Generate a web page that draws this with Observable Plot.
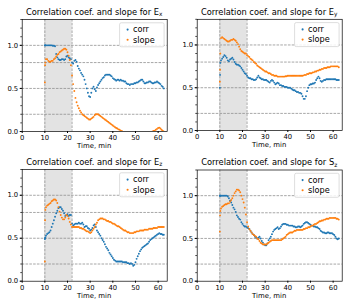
<!DOCTYPE html>
<html><head><meta charset="utf-8">
<script src="https://cdn.jsdelivr.net/npm/d3@7"></script>
<script src="https://cdn.jsdelivr.net/npm/@observablehq/plot@0.6"></script>
<style>
html,body{margin:0;padding:0;background:#fff;}
#root{position:relative;width:359px;height:308px;overflow:hidden;font-family:"DejaVu Sans",sans-serif;}
.panel{position:absolute;}
.panel svg{display:block;overflow:visible;}
</style></head><body><div id="root"></div>
<script>
const times = [10, 10.1, 10.2, 10.5,
  11, 11.5, 12, 12.5, 13, 13.5, 14, 14.5, 15, 15.5,
  16, 16.5, 17, 17.5, 18, 18.5, 19, 19.5, 20, 20.5,
  21, 21.5, 22, 22.5, 23, 23.5, 24, 24.5, 25, 25.5,
  26, 26.5, 27, 27.5, 28, 28.5, 29, 29.5, 30, 30.5,
  31, 31.5, 32, 32.5, 33, 33.5, 34, 34.5, 35, 35.5,
  36, 36.5, 37, 37.5, 38, 38.5, 39, 39.5, 40, 40.5,
  41, 41.5, 42, 42.5, 43, 43.5, 44, 44.5, 45, 45.5,
  46, 46.5, 47, 47.5, 48, 48.5, 49, 49.5, 50, 50.5,
  51, 51.5, 52, 52.5, 53, 53.5, 54, 54.5, 55, 55.5,
  56, 56.5, 57, 57.5, 58, 58.5, 59, 59.5, 60, 60.5,
  61, 61.5, 62, 62.5];

const exCorr = [1.0, 1.0, 1.0, 1.0,
  1.0, 1.0, 1.0, 1.0, 1.0, 0.995, 0.995, 0.99, 0.9, 0.86,
  0.84, 0.83, 0.83, 0.84, 0.84, 0.83, 0.84, 0.87, 0.88, 0.86,
  0.85, 0.84, 0.8, 0.79, 0.82, 0.83, 0.81, 0.76, 0.73, 0.71,
  0.68, 0.66, 0.64, 0.6, 0.55, 0.5, 0.45, 0.41, 0.4, 0.45,
  0.5, 0.52, 0.49, 0.47, 0.51, 0.54, 0.56, 0.58, 0.6, 0.62,
  0.63, 0.65, 0.66, 0.66, 0.66, 0.66, 0.65, 0.64, 0.62, 0.61,
  0.6, 0.59, 0.6, 0.6, 0.59, 0.6, 0.59, 0.59, 0.58, 0.58,
  0.56, 0.55, 0.55, 0.54, 0.55, 0.55, 0.55, 0.56, 0.56, 0.57,
  0.57, 0.58, 0.59, 0.6, 0.6, 0.58, 0.56, 0.56, 0.57, 0.57,
  0.58, 0.58, 0.57, 0.56, 0.56, 0.57, 0.57, 0.58, 0.57, 0.56,
  0.55, 0.53, 0.52, 0.5];
const exSlope = [0.57, 0.77, 0.8, 0.84,
  0.84, 0.82, 0.81, 0.81, 0.82, 0.82, 0.84, 0.85, 0.87, 0.89,
  0.9, 0.92, 0.93, 0.94, 0.95, 0.96, 0.96, 0.95, 0.92, 0.88,
  0.83, 0.77, 0.65, 0.55, 0.47, 0.39, 0.34, 0.3, 0.27, 0.24,
  0.22, 0.2, 0.19, 0.18, 0.17, 0.16, 0.15, 0.14, 0.14, 0.15,
  0.16, 0.17, 0.19, 0.2, 0.2, 0.2, 0.19, 0.18, 0.17, 0.16,
  0.15, 0.14, 0.13, 0.12, 0.11, 0.1, 0.09, 0.08, 0.07, 0.06,
  0.05, 0.04, 0.035, 0.025, 0.02, 0.01, 0.005, null, null, null,
  null, null, null, null, null, null, null, null, null, null,
  null, null, null, null, null, null, null, null, null, null,
  null, null, null, 0.0, 0.005, 0.01, 0.02, 0.03, 0.04, 0.045,
  0.035, 0.02, 0.01, 0.0];

const eyCorr = [0.5, 0.65, 0.79, 0.82,
  0.84, 0.86, 0.88, 0.87, 0.85, 0.82, 0.81, 0.83, 0.84, 0.85,
  0.83, 0.8, 0.78, 0.77, 0.77, 0.76, 0.75, 0.73, 0.71, 0.69,
  0.67, 0.66, 0.64, 0.62, 0.61, 0.61, 0.6, 0.6, 0.59, 0.59,
  0.6, 0.62, 0.64, 0.62, 0.61, 0.6, 0.6, 0.59, 0.59, 0.59,
  0.58, 0.57, 0.56, 0.58, 0.59, 0.58, 0.56, 0.54, 0.55, 0.56,
  0.55, 0.53, 0.53, 0.52, 0.52, 0.51, 0.51, 0.51, 0.5, 0.5,
  0.5, 0.49, 0.48, 0.47, 0.47, 0.46, 0.45, 0.45, 0.44, 0.44,
  0.43, 0.4, 0.37, 0.37, 0.4, 0.46, 0.5, 0.53, 0.54, 0.54,
  0.55, 0.55, 0.56, 0.59, 0.61, 0.63, 0.61, 0.58, 0.57, 0.58,
  0.59, 0.59, 0.6, 0.6, 0.6, 0.6, 0.6, 0.6, 0.6, 0.6,
  0.6, 0.59, 0.59, 0.59];
const eySlope = [0.57, 0.71, 0.9, 1.08,
  1.09, 1.08, 1.07, 1.06, 1.05, 1.04, 1.04, 1.05, 1.06, 1.06,
  1.07, 1.06, 1.05, 1.03, 1.01, 0.98, 0.95, 0.93, 0.92, 0.91,
  0.9, 0.9, 0.88, 0.87, 0.86, 0.84, 0.83, 0.82, 0.8, 0.79,
  0.78, 0.76, 0.75, 0.74, 0.73, 0.72, 0.71, 0.7, 0.69, 0.69,
  0.68, 0.67, 0.67, 0.66, 0.65, 0.65, 0.64, 0.64, 0.64, 0.63,
  0.63, 0.63, 0.63, 0.63, 0.63, 0.63, 0.635, 0.635, 0.64, 0.64,
  0.64, 0.64, 0.64, 0.64, 0.64, 0.64, 0.64, 0.64, 0.64, 0.64,
  0.64, 0.64, 0.645, 0.65, 0.65, 0.66, 0.66, 0.67, 0.67, 0.67,
  0.68, 0.68, 0.69, 0.69, 0.7, 0.7, 0.71, 0.71, 0.72, 0.72,
  0.73, 0.73, 0.73, 0.74, 0.74, 0.74, 0.75, 0.75, 0.75, 0.75,
  0.75, 0.75, 0.75, 0.74];

const ezCorr = [0.49, 0.5, 0.51, 0.53,
  0.55, 0.56, 0.57, 0.59, 0.63, 0.67, 0.71, 0.75, 0.79, 0.82,
  0.85, 0.86, 0.86, 0.84, 0.82, 0.79, 0.76, 0.77, 0.78, 0.76,
  0.77, 0.77, 0.67, 0.65, 0.66, 0.67, 0.67, 0.67, 0.68, 0.67,
  0.67, 0.68, 0.66, 0.63, 0.64, 0.64, 0.62, 0.61, 0.59, 0.6,
  0.62, 0.65, 0.66, 0.63, 0.59, 0.57, 0.55, 0.53, 0.5, 0.48,
  0.46, 0.43, 0.4, 0.38, 0.36, 0.33, 0.31, 0.29, 0.27, 0.25,
  0.24, 0.23, 0.23, 0.23, 0.23, 0.23, 0.23, 0.22, 0.22, 0.22,
  0.22, 0.21, 0.21, 0.2, 0.21, 0.2, 0.18, 0.19, 0.22, 0.26,
  0.29, 0.32, 0.35, 0.37, 0.39, 0.4, 0.41, 0.42, 0.43, 0.44,
  0.46, 0.48, 0.49, 0.5, 0.51, 0.52, 0.53, 0.54, 0.55, 0.56,
  0.55, 0.55, 0.54, 0.54];
const ezSlope = [0.23, 0.71, 0.83, 0.86,
  0.88, 0.89, 0.9, 0.91, 0.93, 0.94, 0.95, 0.95, 0.94, 0.91,
  0.86, 0.81, 0.77, 0.74, 0.72, 0.72, 0.74, 0.77, 0.76, 0.73,
  0.69, 0.66, 0.63, 0.63, 0.63, 0.63, 0.63, 0.63, 0.63, 0.62,
  0.62, 0.61, 0.61, 0.6, 0.59, 0.58, 0.58, 0.57, 0.56, 0.57,
  0.59, 0.61, 0.63, 0.66, 0.68, 0.71, 0.72, 0.73, 0.73, 0.73,
  0.72, 0.72, 0.71, 0.7, 0.7, 0.69, 0.69, 0.68, 0.67, 0.67,
  0.66, 0.65, 0.64, 0.64, 0.63, 0.62, 0.61, 0.6, 0.59, 0.59,
  0.58, 0.57, 0.57, 0.56, 0.56, 0.56, 0.56, 0.57, 0.57, 0.58,
  0.58, 0.58, 0.59, 0.59, 0.59, 0.59, 0.6, 0.6, 0.6, 0.6,
  0.61, 0.61, 0.61, 0.61, 0.62, 0.62, 0.62, 0.62, 0.63, 0.63,
  0.63, 0.63, 0.63, 0.63];

const szCorr = [1.0, 1.0, 1.0, 1.0,
  1.0, 1.0, 1.0, 1.0, 1.0, 0.99, 0.97, 0.94, 0.92, 0.89,
  0.86, 0.84, 0.81, 0.77, 0.75, 0.73, 0.72, 0.69, 0.67, 0.65,
  0.64, 0.64, 0.63, 0.62, 0.61, 0.59, 0.57, 0.55, 0.54, 0.52,
  0.51, 0.5, 0.51, 0.52, 0.5, 0.47, 0.45, 0.43, 0.42, 0.42,
  0.44, 0.48, 0.5, 0.52, 0.55, 0.58, 0.6, 0.61, 0.62, 0.63,
  0.61, 0.62, 0.64, 0.66, 0.67, 0.67, 0.67, 0.66, 0.66, 0.65,
  0.65, 0.65, 0.65, 0.64, 0.64, 0.63, 0.63, 0.64, 0.64, 0.63,
  0.64, 0.65, 0.67, 0.68, 0.69, 0.69, 0.68, 0.67, 0.66, 0.65,
  0.65, 0.64, 0.64, 0.63, 0.63, 0.62, 0.61, 0.59, 0.58, 0.57,
  0.57, 0.56, 0.56, 0.57, 0.57, 0.56, 0.56, 0.56, 0.55, 0.54,
  0.52, 0.5, 0.49, 0.5];
const szSlope = [0.58, 0.77, 0.82, 0.85,
  0.87, 0.88, 0.89, 0.9, 0.9, 0.91, 0.91, 0.93, 0.95, 0.97,
  1.0, 1.03, 1.05, 1.07, 1.07, 1.06, 1.04, 1.0, 0.96, 0.92,
  0.86, 0.78, 0.69, 0.64, 0.61, 0.59, 0.57, 0.55, 0.54, 0.53,
  0.52, 0.5, 0.49, 0.47, 0.45, 0.44, 0.43, 0.43, 0.43, 0.43,
  0.44, 0.45, 0.46, 0.47, 0.48, 0.48, 0.48, 0.48, 0.48, 0.48,
  0.48, 0.48, 0.48, 0.49, 0.5, 0.51, 0.52, 0.54, 0.55, 0.56,
  0.57, 0.57, 0.57, 0.58, 0.59, 0.59, 0.6, 0.6, 0.6, 0.6,
  0.6, 0.6, 0.61, 0.61, 0.62, 0.62, 0.63, 0.63, 0.64, 0.65,
  0.65, 0.66, 0.67, 0.67, 0.68, 0.69, 0.7, 0.7, 0.71, 0.71,
  0.72, 0.72, 0.73, 0.73, 0.73, 0.74, 0.74, 0.74, 0.74, 0.74,
  0.74, 0.73, 0.73, 0.72];

const xTicks = [0, 10, 20, 30, 40, 50, 60];
const yTicks = [0, 0.5, 1.0];
const yMinorTicks = [0, 0.1, 0.2, 0.3, 0.4, 0.5, 0.6, 0.7, 0.8, 0.9, 1.0, 1.1, 1.2, 1.3];
const gridLevels = [0.2, 0.5, 0.8, 1.0];
const windowBounds = [10, 22];
const seriesNames = ["corr", "slope"];
const seriesColors = ["#1f77b4", "#ff7f0e"];
const titleText = "Correlation coef. and slope for ";
const xLabel = "Time, min";
const quantities = [["E", "x"], ["E", "y"], ["E", "z"], ["S", "z"]];
const corrSeries = [exCorr, eyCorr, ezCorr, szCorr];
const slopeSeries = [exSlope, eySlope, ezSlope, szSlope];

const layout = [
  {left: 0,   top: 0,   width: 175, mt: 19,   mb: 23,   mr: 8.3},
  {left: 175, top: 0,   width: 184, mt: 18.8, mb: 24,   mr: 17.3},
  {left: 0,   top: 154, width: 175, mt: 15,   mb: 27.3, mr: 8.3},
  {left: 175, top: 154, width: 184, mt: 15.5, mb: 27.3, mr: 17.3}
];
const H = 154, ML = 21.7;
const FONT = "DejaVu Sans";

const root = document.getElementById("root");
const pts = arr => times.map((t, i) => ({t, v: arr[i]})).filter(d => d.v != null);

layout.forEach((L, k) => {
  const dash = {stroke: "#8a8a8a", strokeWidth: 0.75, strokeDasharray: "2.6,1.2"};
  const plot = Plot.plot({
    width: L.width, height: H,
    marginLeft: ML, marginRight: L.mr, marginTop: L.mt, marginBottom: L.mb,
    style: {fontFamily: FONT, fontSize: "6.8px", background: "transparent", color: "#000", overflow: "visible"},
    x: {domain: [0, 64]},
    y: {domain: [0, 1.3]},
    marks: [
      Plot.rect([windowBounds], {x1: d => d[0], x2: d => d[1], y1: () => 0, y2: () => 1.3, fill: "#e3e3e3"}),
      Plot.ruleY(gridLevels, dash),
      Plot.ruleX(windowBounds, dash),
      Plot.dot(pts(corrSeries[k]), {x: "t", y: "v", r: 0.95, fill: seriesColors[0], clip: true}),
      Plot.dot(pts(slopeSeries[k]), {x: "t", y: "v", r: 0.95, fill: seriesColors[1], clip: true}),
      Plot.axisX({ticks: xTicks, tickSize: 2, tickPadding: 1.5, label: null, tickFormat: d => String(d)}),
      Plot.axisY({ticks: yTicks, tickSize: 2, tickPadding: 2, label: null, tickFormat: d => d.toFixed(1)}),
      Plot.axisY({ticks: yMinorTicks, tickSize: 1.2, label: null, tickFormat: () => ""}),
      Plot.frame({stroke: "#000", strokeWidth: 0.7})
    ]
  });
  const div = document.createElement("div");
  div.className = "panel";
  div.style.left = L.left + "px";
  div.style.top = L.top + "px";
  div.appendChild(plot);
  root.appendChild(div);

  const svg = d3.select(plot);
  const fx0 = ML, fx1 = L.width - L.mr, cx = (fx0 + fx1) / 2;
  const fyBottom = H - L.mb;

  const t = svg.append("text")
    .attr("x", cx).attr("y", L.mt - 4.2)
    .attr("text-anchor", "middle")
    .style("font-family", FONT).style("font-size", "8.3px").attr("fill", "#000");
  t.append("tspan").text(titleText + quantities[k][0]);
  t.append("tspan").style("font-size", "5.8px").attr("dy", 1.6).text(quantities[k][1]);

  svg.append("text")
    .attr("x", cx).attr("y", fyBottom + 17)
    .attr("text-anchor", "middle")
    .style("font-family", FONT).style("font-size", "6.9px").attr("fill", "#000")
    .text(xLabel);

  const bx1 = fx1 - 2.6, bx0 = bx1 - 44.5, by0 = L.mt + 3.8, bh = 24;
  svg.append("rect")
    .attr("x", bx0).attr("y", by0).attr("width", bx1 - bx0).attr("height", bh)
    .attr("rx", 1.6).style("fill", "#fff").style("fill-opacity", 0.85)
    .style("stroke", "#d0d0d0").style("stroke-width", 0.7);
  seriesNames.forEach((name, i) => {
    svg.append("circle")
      .attr("cx", bx0 + 8).attr("cy", by0 + 6.8 + i * 10.2).attr("r", 1.05)
      .style("fill", seriesColors[i]).style("stroke", "none");
    svg.append("text")
      .attr("x", bx0 + 13.3).attr("y", by0 + 9.6 + i * 10.2)
      .attr("text-anchor", "start")
      .style("font-family", FONT).style("font-size", "8.2px").style("fill", "#000")
      .text(name);
  });
});
</script>
</body></html>
